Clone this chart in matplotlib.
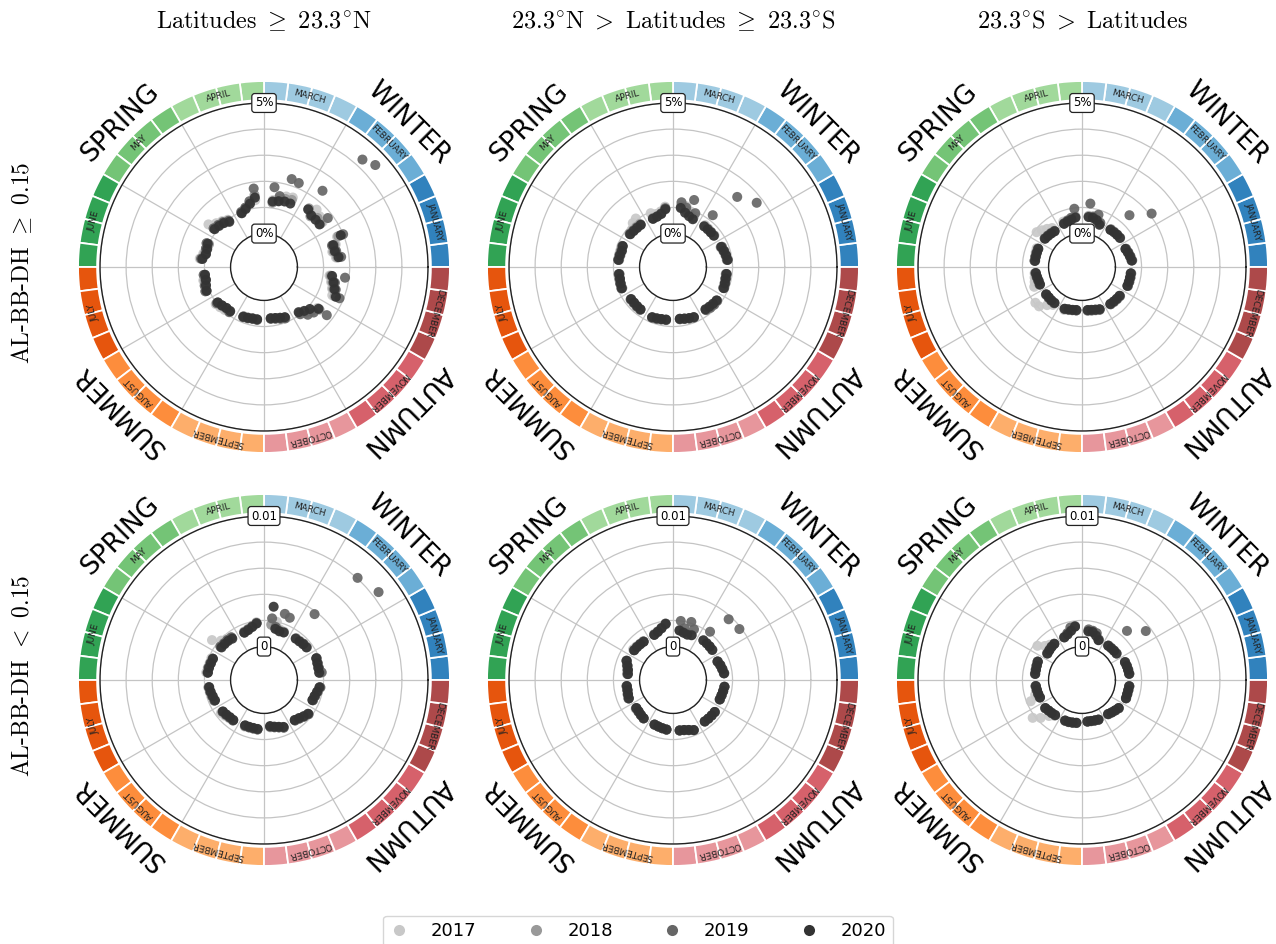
import numpy as np
import matplotlib.pyplot as plt
from matplotlib.lines import Line2D

plt.rcParams['mathtext.fontset'] = 'cm'

months = ["JANUARY", "FEBRUARY", "MARCH", "APRIL", "MAY", "JUNE",
          "JULY", "AUGUST", "SEPTEMBER", "OCTOBER", "NOVEMBER", "DECEMBER"]
month_colors = ["#3182bd", "#6baed6", "#9ecae1",
                "#a1d99b", "#74c476", "#31a354",
                "#e6550d", "#fd8d3c", "#fdae6b",
                "#e7969c", "#d6616b", "#ad494a"]
seasons = ["WINTER", "SPRING", "SUMMER", "AUTUMN"]
years = ["2017", "2018", "2019", "2020"]
year_colors = ["#c8c8c8", "#999999", "#666666", "#333333"]

col_titles = [r"$\mathrm{Latitudes}\ {\geq}\ 23.3^{\circ}\mathrm{N}$",
              r"$23.3^{\circ}\mathrm{N}\ {>}\ \mathrm{Latitudes}\ {\geq}\ 23.3^{\circ}\mathrm{S}$",
              r"$23.3^{\circ}\mathrm{S}\ {>}\ \mathrm{Latitudes}$"]
row_titles = [r"AL-BB-DH ${\geq}$ 0.15", r"AL-BB-DH ${<}$ 0.15"]
r_labels = [("0%", "5%"), ("0", "0.01")]
r_max = [5, 0.01]
row_units = [1.0, 1e-3]   # bottom row values below are in units of 1e-3

# weekly values (4 per month, Jan..Dec), top row in %
north_hi_2017 = [1.5, 1.4, 1.6, 1.75, 1.55, 1.6, 1.7, 1.5, 1.6, 1.55, 1.4, 1.3,
                 1.3, 1.2, 1.05, 1.0, 1.0, 1.1, 1.2, 1.4, 1.1, 1.05, 1.1, 1.2,
                 1.05, 1.1, 1.1, 1.15, 1.05, 1.0, 0.95, 0.9, 0.8, 0.78, 0.76, 0.77,
                 0.72, 0.74, 0.78, 0.84, 0.95, 1.1, 1.15, 1.3, 1.55, 1.45, 1.35, 1.25]
north_hi_2018 = [1.55, 1.45, 1.55, 1.8, 1.45, 1.5, 1.35, 1.55, 1.5, 1.45, 1.3, 1.2,
                 1.5, 1.25, 1.1, 0.95, 0.95, 1.0, 1.1, 1.15, 1.0, 1.05, 1.05, 1.1,
                 1.0, 1.05, 1.05, 1.1, 0.95, 0.92, 0.88, 0.85, 0.76, 0.75, 0.73, 0.75,
                 0.7, 0.73, 0.76, 0.82, 0.95, 1.05, 1.2, 1.4, 1.65, 1.5, 1.4, 1.3]
north_hi_2019 = [1.7, 1.55, 1.45, 2.0, 1.8, 4.5, 4.3, 2.4, 2.2, 2.25, 1.5, 1.8,
                 1.75, 1.3, 1.1, 1.0, 0.95, 1.05, 1.1, 1.15, 1.1, 1.05, 1.0, 1.15,
                 1.05, 1.0, 1.1, 1.15, 1.0, 0.9, 0.85, 0.9, 0.8, 0.78, 0.75, 0.76,
                 0.72, 0.75, 0.8, 0.85, 1.0, 1.2, 1.3, 1.75, 1.85, 1.6, 1.5, 1.85]
north_hi_2020 = [1.6, 1.5, 1.5, 1.9, 1.4, 1.4, 1.4, 1.5, 1.35, 1.35, 1.3, 1.25,
                 1.4, 1.2, 1.05, 0.95, 0.9, 1.0, 1.05, 1.1, 1.05, 1.0, 1.0, 1.1,
                 1.0, 1.0, 1.05, 1.1, 0.95, 0.9, 0.85, 0.85, 0.78, 0.76, 0.74, 0.74,
                 0.7, 0.72, 0.76, 0.8, 0.9, 1.0, 1.1, 1.35, 1.7, 1.55, 1.45, 1.35]

tropic_hi_2017 = [0.8, 0.78, 0.74, 0.7, 0.72, 0.7, 0.72, 0.74, 0.8, 0.95, 1.1, 1.1,
                  1.05, 0.9, 0.85, 0.95, 1.06, 1.0, 0.85, 0.8, 0.85, 0.82, 0.8, 0.82,
                  0.8, 0.82, 0.84, 0.85, 0.77, 0.78, 0.8, 0.8, 0.8, 0.78, 0.76, 0.76,
                  0.73, 0.75, 0.78, 0.8, 0.8, 0.82, 0.84, 0.86, 0.8, 0.78, 0.76, 0.76]
tropic_hi_2018 = [0.8, 0.78, 0.75, 0.7, 0.7, 0.69, 0.7, 0.7, 0.75, 0.85, 0.95, 1.05,
                  1.0, 0.82, 0.76, 0.75, 0.8, 0.8, 0.8, 0.82, 0.82, 0.8, 0.78, 0.8,
                  0.78, 0.8, 0.82, 0.82, 0.75, 0.76, 0.77, 0.78, 0.82, 0.8, 0.77, 0.76,
                  0.72, 0.75, 0.78, 0.8, 0.78, 0.8, 0.83, 0.84, 0.8, 0.8, 0.78, 0.76]
tropic_hi_2019 = [0.84, 0.8, 0.78, 0.75, 2.76, 0.7, 2.36, 1.22, 0.95, 1.41, 1.05, 1.22,
                  0.98, 0.82, 0.75, 0.72, 0.76, 0.77, 0.78, 0.8, 0.82, 0.8, 0.82, 0.84,
                  0.82, 0.82, 0.84, 0.86, 0.76, 0.75, 0.77, 0.78, 0.82, 0.8, 0.78, 0.77,
                  0.74, 0.76, 0.79, 0.82, 0.8, 0.84, 0.86, 0.85, 0.84, 0.82, 0.8, 0.8]
tropic_hi_2020 = [0.82, 0.8, 0.76, 0.72, 0.69, 0.68, 0.68, 0.68, 0.7, 0.76, 0.85, 1.0,
                  0.95, 0.8, 0.74, 0.72, 0.75, 0.75, 0.76, 0.78, 0.8, 0.77, 0.8, 0.82,
                  0.8, 0.8, 0.82, 0.84, 0.74, 0.74, 0.75, 0.76, 0.8, 0.78, 0.76, 0.75,
                  0.72, 0.74, 0.77, 0.8, 0.76, 0.78, 0.8, 0.82, 0.82, 0.8, 0.78, 0.78]

south_hi_2017 = [0.65, 0.62, 0.58, 0.55, 0.56, 0.55, 0.55, 0.55, 0.55, 0.6, 0.65, 0.7,
                 0.7, 0.62, 0.6, 0.6, 0.6, 0.7, 0.8, 0.91, 0.6, 0.58, 0.56, 0.56,
                 0.55, 0.58, 0.62, 0.7, 0.97, 0.95, 0.7, 0.55, 0.5, 0.45, 0.42, 0.4,
                 0.42, 0.44, 0.46, 0.5, 0.52, 0.54, 0.55, 0.56, 0.62, 0.62, 0.62, 0.62]
south_hi_2018 = [0.63, 0.6, 0.57, 0.53, 0.56, 0.55, 0.54, 0.52, 0.5, 0.6, 0.66, 0.68,
                 0.65, 0.6, 0.56, 0.52, 0.46, 0.48, 0.5, 0.52, 0.54, 0.54, 0.54, 0.55,
                 0.51, 0.49, 0.47, 0.47, 0.45, 0.45, 0.46, 0.46, 0.46, 0.43, 0.41, 0.39,
                 0.39, 0.41, 0.44, 0.48, 0.51, 0.52, 0.53, 0.54, 0.61, 0.61, 0.61, 0.61]
south_hi_2019 = [0.66, 0.62, 0.58, 0.54, 2.08, 0.55, 1.41, 0.53, 0.55, 0.82, 0.7, 1.17,
                 0.97, 0.65, 0.58, 0.53, 0.46, 0.48, 0.5, 0.52, 0.55, 0.55, 0.55, 0.55,
                 0.52, 0.5, 0.48, 0.48, 0.46, 0.46, 0.47, 0.47, 0.46, 0.43, 0.41, 0.4,
                 0.4, 0.42, 0.45, 0.49, 0.52, 0.53, 0.54, 0.55, 0.62, 0.62, 0.62, 0.62]
south_hi_2020 = [0.64, 0.6, 0.56, 0.52, 0.55, 0.54, 0.53, 0.51, 0.47, 0.6, 0.65, 0.65,
                 0.63, 0.58, 0.55, 0.51, 0.44, 0.46, 0.48, 0.5, 0.53, 0.53, 0.53, 0.53,
                 0.5, 0.48, 0.46, 0.46, 0.44, 0.44, 0.45, 0.45, 0.45, 0.42, 0.4, 0.38,
                 0.38, 0.4, 0.43, 0.47, 0.5, 0.51, 0.52, 0.53, 0.6, 0.6, 0.6, 0.6]

# bottom row, units of 1e-3
north_lo_2017 = [1.75, 1.7, 1.75, 1.8, 1.6, 1.55, 1.5, 1.5, 1.45, 1.5, 2.0, 1.8,
                 1.9, 1.7, 1.55, 1.45, 1.6, 1.7, 1.9, 2.46, 1.8, 1.8, 1.85, 1.9,
                 1.75, 1.7, 1.65, 1.6, 1.6, 1.5, 1.4, 1.35, 1.3, 1.25, 1.25, 1.25,
                 1.1, 1.15, 1.25, 1.35, 1.35, 1.45, 1.6, 1.7, 1.5, 1.55, 1.65, 1.75]
north_lo_2018 = [1.75, 1.72, 1.75, 1.8, 1.58, 1.52, 1.48, 1.45, 1.4, 1.4, 1.5, 1.7,
                 1.82, 1.62, 1.48, 1.4, 1.52, 1.58, 1.58, 1.62, 1.7, 1.72, 1.78, 1.8,
                 1.7, 1.66, 1.6, 1.55, 1.42, 1.38, 1.33, 1.32, 1.22, 1.22, 1.22, 1.24,
                 1.05, 1.12, 1.22, 1.36, 1.33, 1.43, 1.58, 1.72, 1.48, 1.52, 1.62, 1.75]
north_lo_2019 = [1.9, 1.75, 1.75, 1.8, 8.5, 1.55, 8.05, 3.8, 2.6, 2.75, 1.6, 2.2,
                 1.85, 1.65, 1.5, 1.4, 1.55, 1.6, 1.6, 1.65, 1.7, 1.75, 1.8, 1.8,
                 1.7, 1.65, 1.6, 1.55, 1.45, 1.4, 1.35, 1.35, 1.25, 1.25, 1.25, 1.27,
                 1.05, 1.15, 1.25, 1.4, 1.35, 1.45, 1.6, 1.75, 1.5, 1.55, 1.65, 1.8]
north_lo_2020 = [1.7, 1.7, 1.72, 1.77, 1.54, 1.5, 1.45, 1.43, 1.38, 1.35, 1.45, 3.1,
                 1.8, 1.6, 1.45, 1.36, 1.43, 1.5, 1.52, 1.54, 1.67, 1.7, 1.75, 1.77,
                 1.67, 1.62, 1.55, 1.5, 1.4, 1.35, 1.3, 1.3, 1.2, 1.2, 1.2, 1.22,
                 1.0, 1.1, 1.2, 1.33, 1.3, 1.4, 1.55, 1.69, 1.45, 1.5, 1.6, 1.72]

tropic_lo_2017 = [1.4, 1.32, 1.25, 1.15, 1.25, 1.26, 1.27, 1.28, 1.2, 1.15, 1.2, 1.3,
                  1.8, 1.55, 1.35, 1.25, 1.2, 1.2, 1.25, 1.3, 1.3, 1.15, 1.05, 1.0,
                  1.05, 1.05, 1.1, 1.15, 1.05, 1.05, 1.1, 1.15, 1.15, 1.18, 1.22, 1.28,
                  1.35, 1.38, 1.47, 1.6, 1.45, 1.46, 1.47, 1.48, 1.33, 1.35, 1.38, 1.42]
tropic_lo_2018 = [1.36, 1.28, 1.22, 1.12, 1.22, 1.24, 1.26, 1.27, 1.18, 1.12, 1.18, 1.3,
                  1.75, 1.5, 1.32, 1.2, 1.15, 1.16, 1.18, 1.2, 1.26, 1.08, 1.0, 0.95,
                  1.02, 1.02, 1.07, 1.12, 0.98, 1.02, 1.08, 1.14, 1.14, 1.18, 1.22, 1.27,
                  1.33, 1.36, 1.46, 1.6, 1.44, 1.45, 1.46, 1.47, 1.32, 1.34, 1.37, 1.41]
tropic_lo_2019 = [1.4, 1.32, 1.25, 1.16, 3.85, 1.25, 3.75, 2.1, 1.64, 2.1, 1.5, 2.0,
                  1.8, 1.52, 1.32, 1.2, 1.15, 1.17, 1.19, 1.2, 1.3, 1.12, 1.0, 0.95,
                  1.02, 1.02, 1.07, 1.12, 1.0, 1.03, 1.08, 1.15, 1.15, 1.18, 1.23, 1.28,
                  1.35, 1.38, 1.47, 1.6, 1.45, 1.46, 1.47, 1.48, 1.33, 1.35, 1.38, 1.42]
tropic_lo_2020 = [1.38, 1.3, 1.23, 1.13, 1.23, 1.24, 1.25, 1.26, 1.15, 1.08, 1.15, 1.26,
                  1.77, 1.5, 1.3, 1.18, 1.13, 1.15, 1.17, 1.18, 1.28, 1.1, 0.97, 0.92,
                  1.0, 1.0, 1.05, 1.1, 0.97, 1.0, 1.07, 1.13, 1.13, 1.17, 1.22, 1.26,
                  1.33, 1.36, 1.45, 1.59, 1.43, 1.44, 1.45, 1.46, 1.31, 1.33, 1.37, 1.41]

south_lo_2017 = [1.1, 1.08, 1.05, 1.02, 0.8, 0.78, 0.77, 0.76, 0.8, 1.05, 1.25, 1.25,
                 1.6, 1.35, 1.15, 1.0, 0.95, 1.1, 1.3, 1.74, 1.12, 1.1, 1.08, 1.08,
                 1.05, 1.05, 1.2, 1.69, 2.2, 1.74, 1.18, 0.9, 0.82, 0.82, 0.8, 0.77,
                 0.66, 0.67, 0.7, 0.74, 0.75, 0.82, 0.9, 1.0, 1.1, 1.08, 1.08, 1.1]
south_lo_2018 = [1.08, 1.05, 1.03, 1.0, 0.77, 0.76, 0.76, 0.75, 0.76, 1.05, 1.22, 1.22,
                 1.58, 1.32, 1.12, 0.98, 0.93, 0.9, 0.84, 0.8, 1.12, 1.08, 1.06, 1.06,
                 1.02, 0.99, 0.97, 0.94, 1.0, 0.92, 0.88, 0.84, 0.82, 0.82, 0.79, 0.76,
                 0.65, 0.66, 0.69, 0.73, 0.74, 0.81, 0.89, 0.98, 1.09, 1.07, 1.07, 1.09]
south_lo_2019 = [1.1, 1.07, 1.04, 1.02, 3.6, 0.77, 2.54, 0.76, 0.8, 1.2, 1.3, 1.35,
                 1.6, 1.56, 1.2, 1.0, 0.94, 0.9, 0.84, 0.8, 1.12, 1.09, 1.07, 1.07,
                 1.02, 0.99, 0.97, 0.94, 0.99, 0.92, 0.88, 0.84, 0.82, 0.82, 0.79, 0.76,
                 0.66, 0.67, 0.7, 0.74, 0.74, 0.82, 0.9, 0.99, 1.1, 1.08, 1.08, 1.1]
south_lo_2020 = [1.08, 1.05, 1.03, 1.0, 0.77, 0.76, 0.75, 0.74, 0.74, 1.0, 1.2, 1.2,
                 1.56, 1.3, 1.1, 0.97, 0.92, 0.88, 0.82, 0.77, 1.1, 1.07, 1.05, 1.05,
                 1.0, 0.97, 0.95, 0.92, 0.97, 0.9, 0.86, 0.82, 0.8, 0.8, 0.77, 0.74,
                 0.64, 0.65, 0.68, 0.72, 0.72, 0.8, 0.88, 0.97, 1.08, 1.06, 1.06, 1.08]

panels = [
    [[north_hi_2017, north_hi_2018, north_hi_2019, north_hi_2020],
     [tropic_hi_2017, tropic_hi_2018, tropic_hi_2019, tropic_hi_2020],
     [south_hi_2017, south_hi_2018, south_hi_2019, south_hi_2020]],
    [[north_lo_2017, north_lo_2018, north_lo_2019, north_lo_2020],
     [tropic_lo_2017, tropic_lo_2018, tropic_lo_2019, tropic_lo_2020],
     [south_lo_2017, south_lo_2018, south_lo_2019, south_lo_2020]],
]

W, H = 1276, 944
fig = plt.figure(figsize=(W / 100, H / 100), dpi=100)

centers_x = [264, 673, 1082]
centers_y = [267, 680]
R = 164  # px radius of the polar spine

# angle of each weekly point: 4 points in the middle of each month
month_idx = np.repeat(np.arange(12), 4)
week_idx = np.tile(np.arange(4), 12)
theta_pts = np.deg2rad(month_idx * 30 + 7.5 + week_idx * 5)

seg = np.arange(48)
theta_seg = np.deg2rad(seg * 7.5 + 3.75)
seg_colors = [month_colors[k // 4] for k in seg]


def draw_panel(ax, series, rmax, unit, labels):
    ax.set_ylim(0, rmax)
    ax.set_rorigin(-0.256 * rmax)
    ax.set_xticks(np.deg2rad(np.arange(0, 360, 30)))
    ax.set_xticklabels([])
    ax.set_yticks(np.linspace(0, rmax, 6))
    ax.set_yticklabels([])
    ax.grid(True, color="#c4c4c4", lw=0.9)
    for sp in ax.spines.values():
        sp.set_color("#222222")
        sp.set_linewidth(1.0)

    for vals, col in zip(series, year_colors):
        ax.scatter(theta_pts, np.array(vals) * unit, s=52, color=col,
                   edgecolors="none", alpha=0.92, zorder=3, clip_on=False)

    # month ring
    ax.bar(theta_seg, 0.146 * rmax, width=np.deg2rad(7.5), bottom=1.022 * rmax,
           color=seg_colors, edgecolor="white", linewidth=1.3, clip_on=False, zorder=2)
    for i, m in enumerate(months):
        deg = i * 30 + 15
        ax.text(np.deg2rad(deg), 1.095 * rmax, m, fontsize=6.5, ha="center", va="center",
                rotation=deg - 90, rotation_mode="anchor", color="#222222", zorder=4)
    for i, s in enumerate(seasons):
        deg = 45 + i * 90
        ax.text(np.deg2rad(deg), 1.30 * rmax, s, fontsize=19, ha="center", va="center",
                rotation=deg - 90, rotation_mode="anchor", color="black")

    box = dict(boxstyle="round,pad=0.25", fc="white", ec="#222222", lw=0.9)
    ax.text(np.pi / 2, 0, labels[0], fontsize=8.5, ha="center", va="center", bbox=box, zorder=5)
    ax.text(np.pi / 2, rmax, labels[1], fontsize=8.5, ha="center", va="center", bbox=box, zorder=5)


for r in range(2):
    for c in range(3):
        left = (centers_x[c] - R) / W
        bottom = (H - centers_y[r] - R) / H
        ax = fig.add_axes([left, bottom, 2 * R / W, 2 * R / H], projection="polar")
        draw_panel(ax, panels[r][c], r_max[r], row_units[r], r_labels[r])

for c, t in enumerate(col_titles):
    fig.text(centers_x[c] / W, 1 - 21 / H, t, fontsize=17.5, ha="center", va="center")
for r, t in enumerate(row_titles):
    fig.text(22 / W, 1 - (centers_y[r] - 4) / H, t, family="cmr10", fontsize=17,
             ha="center", va="center", rotation=90)

handles = [Line2D([], [], ls="none", marker="o", markersize=8, color=c, mec="none")
           for c in year_colors]
fig.legend(handles, years, loc="lower center", bbox_to_anchor=(0.5, -0.012), ncol=4,
           fontsize=13, handlelength=1.0, handletextpad=1.25, columnspacing=2.8,
           frameon=True, edgecolor="#cccccc", borderpad=0.35)

fig.savefig("out.png", dpi=100)
